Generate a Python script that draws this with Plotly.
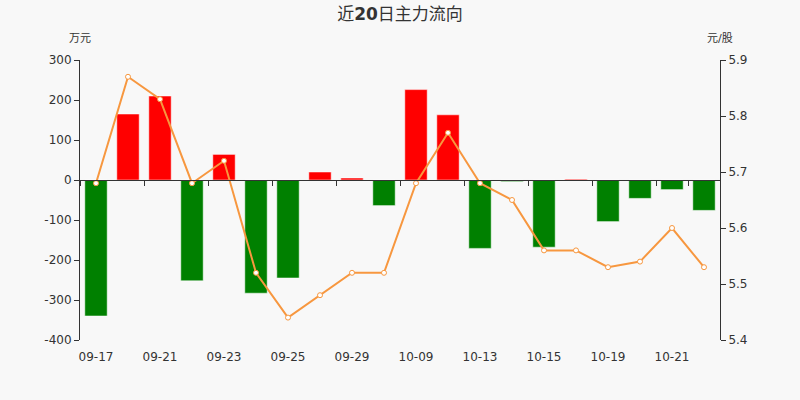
import plotly.graph_objects as go

dates = ["09-17", "09-18", "09-21", "09-22", "09-23", "09-24", "09-25", "09-28", "09-29", "09-30",
         "10-09", "10-12", "10-13", "10-14", "10-15", "10-16", "10-19", "10-20", "10-21", "10-22"]
# main net inflow, 10k yuan
main_flow = [-340, 165, 210, -252, 64, -283, -245, 20, 5, -64,
             226, 163, -171, -4, -168, 2, -104, -46, -24, -76]
# close price, yuan/share
price = [5.68, 5.87, 5.83, 5.68, 5.72, 5.52, 5.44, 5.48, 5.52, 5.52,
         5.68, 5.77, 5.68, 5.65, 5.56, 5.56, 5.53, 5.54, 5.60, 5.53]
flow_ticks = [-400, -300, -200, -100, 0, 100, 200, 300]

bar_colors = ["#ff0000" if v >= 0 else "#008000" for v in main_flow]
font_main = "DejaVu Sans, Noto Sans CJK SC, sans-serif"

fig = go.Figure()
fig.add_trace(go.Bar(x=dates, y=main_flow, marker_color=bar_colors,
                     marker_line=dict(color="rgba(255,255,255,0.5)", width=1),
                     width=0.7, xaxis="x", yaxis="y", hoverinfo="x+y"))
fig.add_trace(go.Scatter(x=dates, y=price, mode="lines+markers",
                         line=dict(color="#f7973f", width=2),
                         marker=dict(symbol="circle", size=5, color="#ffffff",
                                     line=dict(color="#f7973f", width=1)),
                         xaxis="x2", yaxis="y2"))

zero_pos = 400 / 700  # where 0 sits on the left axis (range -400..300)
fig.update_layout(
    width=800, height=400,
    margin=dict(l=80, r=80, t=60, b=60),
    paper_bgcolor="#f8f8f8", plot_bgcolor="#f8f8f8",
    showlegend=False,
    font=dict(family=font_main, size=12, color="#333333"),
    title=dict(text="近<b>20</b>日主力流向", x=0.5, xanchor="center", y=0.965, yanchor="middle",
               font=dict(size=17, color="#333333")),
    xaxis=dict(type="category", categoryarray=dates, range=[-0.5, 19.5],
               tickvals=dates[::2], ticks="outside", ticklen=6, tickcolor="rgba(0,0,0,0)",
               showline=False, showgrid=False,
               zeroline=False, tickfont=dict(size=12, color="#333333")),
    xaxis2=dict(type="category", categoryarray=dates, range=[-0.5, 19.5],
                overlaying="x", anchor="free", position=zero_pos, side="bottom",
                tickvals=dates[::2], tickson="boundaries", ticks="outside", ticklen=5,
                tickcolor="#333333", showticklabels=False, showline=True,
                linecolor="#333333", linewidth=1, showgrid=False, zeroline=False),
    yaxis=dict(range=[-400, 300], tickvals=flow_ticks, ticktext=[str(v) for v in flow_ticks],
               showgrid=False, zeroline=False,
               showline=True, linecolor="#333333", ticks="outside", ticklen=5,
               tickcolor="#333333", tickfont=dict(size=12, color="#333333")),
    yaxis2=dict(range=[5.4, 5.9], dtick=0.1, tickformat=".1f", overlaying="y", side="right",
                anchor="x", showgrid=False, zeroline=False, showline=True,
                linecolor="#333333", ticks="outside", ticklen=5, tickcolor="#333333",
                tickfont=dict(size=12, color="#333333")),
    annotations=[
        dict(text="万元", xref="paper", yref="paper", x=0, y=1, yshift=22,
             xanchor="center", yanchor="middle", showarrow=False,
             font=dict(size=11, color="#333333")),
        dict(text="元/股", xref="paper", yref="paper", x=1, y=1, yshift=22,
             xanchor="center", yanchor="middle", showarrow=False,
             font=dict(size=11, color="#333333")),
    ],
)

fig.write_html("out.html", config={"displayModeBar": False},
               post_script="document.body.style.margin='0';")
